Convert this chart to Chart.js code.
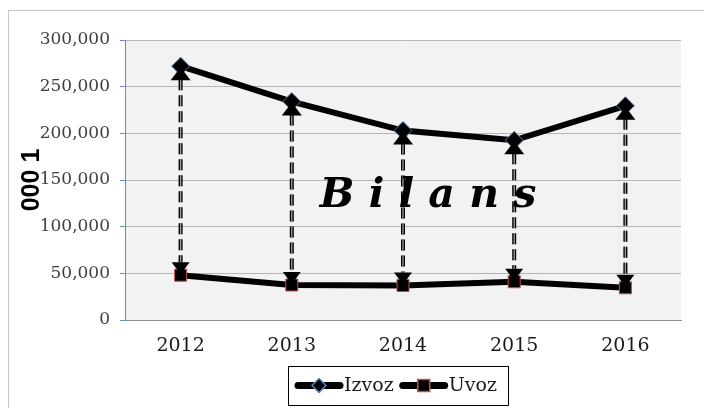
<!DOCTYPE html>
<html>
<head>
<meta charset="utf-8">
<script src="https://cdn.jsdelivr.net/npm/chart.js@4/dist/chart.umd.min.js"></script>
<style>
  body { margin: 0; background: #fff; }
  #wrap { width: 704px; height: 408px; }
</style>
</head>
<body>
<div id="wrap"><canvas id="myChart" width="704" height="408"></canvas></div>
<script>
var years = ['2012', '2013', '2014', '2015', '2016'];
var izvoz = [272000, 234000, 203000, 192500, 229500];
var uvoz = [48000, 37500, 37000, 41000, 34500];
var yTicks = [0, 50000, 100000, 150000, 200000, 250000, 300000];

var serif = '"DejaVu Serif", serif';

// white page, thin outer frame and grey plot area
var frame = {
    id: 'frame',
    beforeDraw: function (chart) {
        var ctx = chart.ctx, a = chart.chartArea;
        ctx.save();
        ctx.fillStyle = '#fff';
        ctx.fillRect(0, 0, chart.width, chart.height);
        ctx.strokeStyle = '#c4c4c4';
        ctx.lineWidth = 1;
        ctx.strokeRect(8.5, 10.5, chart.width + 10, chart.height + 10);
        ctx.fillStyle = '#f2f2f2';
        ctx.fillRect(a.left, a.top, a.right - a.left, a.bottom - a.top);
        ctx.restore();
    }
};

// dashed double arrows between the two series + the "Bilans" caption
var bilans = {
    id: 'bilans',
    afterDatasetsDraw: function (chart) {
        var ctx = chart.ctx, a = chart.chartArea;
        var top = chart.getDatasetMeta(0).data;
        var bot = chart.getDatasetMeta(1).data;
        ctx.save();
        top.forEach(function (p, i) {
            var q = bot[i];
            var x = p.x, y1 = p.y + 1, y2 = q.y - 1;
            ctx.setLineDash([11, 5]);
            ctx.lineWidth = 4;
            ctx.strokeStyle = '#000';
            ctx.beginPath();
            ctx.moveTo(x, y1 + 12);
            ctx.lineTo(x, y2 - 12);
            ctx.stroke();
            ctx.lineWidth = 1.3;
            ctx.strokeStyle = '#a0a0a0';
            ctx.stroke();
            ctx.setLineDash([]);
            ctx.fillStyle = '#000';
            ctx.beginPath();
            ctx.moveTo(x, y1);
            ctx.lineTo(x + 10, y1 + 13);
            ctx.lineTo(x - 10, y1 + 13);
            ctx.closePath();
            ctx.fill();
            ctx.beginPath();
            ctx.moveTo(x, y2);
            ctx.lineTo(x + 9, y2 - 12);
            ctx.lineTo(x - 9, y2 - 12);
            ctx.closePath();
            ctx.fill();
        });
        ctx.font = 'italic bold 41px ' + serif;
        ctx.textAlign = 'center';
        ctx.textBaseline = 'middle';
        ctx.fillStyle = '#000';
        ctx.fillText('B i l a n s', a.left + (a.right - a.left) * 0.545, a.top + (a.bottom - a.top) * 0.56);
        ctx.restore();
    }
};

// boxed legend with line + marker samples
var legendBox = {
    id: 'legendBox',
    afterDraw: function (chart) {
        var ctx = chart.ctx;
        var bx = 288, by = 366, bw = 220, bh = 39;
        var cy = by + bh / 2;
        ctx.save();
        ctx.strokeStyle = '#000';
        ctx.lineWidth = 1;
        ctx.strokeRect(bx + 0.5, by + 0.5, bw, bh);
        var x = bx + 7;
        ctx.font = '19px ' + serif;
        ctx.textBaseline = 'middle';
        chart.data.datasets.forEach(function (ds) {
            ctx.strokeStyle = '#000';
            ctx.lineWidth = 7;
            ctx.lineCap = 'round';
            ctx.beginPath();
            ctx.moveTo(x + 3, cy);
            ctx.lineTo(x + 45, cy);
            ctx.stroke();
            var mx = x + 24;
            ctx.fillStyle = '#000';
            ctx.strokeStyle = ds.pointBorderColor;
            ctx.lineWidth = 1.5;
            ctx.beginPath();
            if (ds.pointStyle === 'rectRot') {
                ctx.moveTo(mx, cy - 7);
                ctx.lineTo(mx + 7, cy);
                ctx.lineTo(mx, cy + 7);
                ctx.lineTo(mx - 7, cy);
                ctx.closePath();
            } else {
                ctx.rect(mx - 6, cy - 6, 12, 12);
            }
            ctx.fill();
            ctx.stroke();
            ctx.fillStyle = '#1a1a1a';
            ctx.fillText(ds.label, x + 49, cy + 1);
            x += 49 + ctx.measureText(ds.label).width + 6;
        });
        ctx.restore();
    }
};

var ctx = document.getElementById('myChart').getContext('2d');
var myChart = new Chart(ctx, {
    type: 'line',
    data: {
        labels: years,
        datasets: [
            {
                label: 'Izvoz',
                data: izvoz,
                borderColor: '#000',
                borderWidth: 6,
                pointStyle: 'rectRot',
                pointRadius: 9,
                pointBackgroundColor: '#000',
                pointBorderColor: '#4f81bd',
                pointBorderWidth: 1,
            },
            {
                label: 'Uvoz',
                data: uvoz,
                borderColor: '#000',
                borderWidth: 6,
                pointStyle: 'rect',
                pointRadius: 8.5,
                pointBackgroundColor: '#000',
                pointBorderColor: '#c0504d',
                pointBorderWidth: 1,
            },
        ],
    },
    options: {
        responsive: false,
        animation: false,
        layout: { padding: { left: 0, right: 23, top: 40, bottom: 0 } },
        plugins: { legend: { display: false }, tooltip: { enabled: false } },
        scales: {
            x: {
                offset: true,
                grid: { display: false, drawTicks: false },
                border: { color: '#8c8c8c', width: 1 },
                ticks: { padding: 15, color: '#1a1a1a', font: { family: serif, size: 19 } },
                afterFit: function (s) { s.height = 88; },
            },
            y: {
                min: 0,
                max: 300000,
                afterBuildTicks: function (s) { s.ticks = yTicks.map(function (v) { return { value: v }; }); },
                grid: { color: '#b5b5b5', tickColor: '#5a8ed0', tickLength: 5 },
                border: { color: '#5a8ed0', width: 1 },
                ticks: {
                    padding: 10,
                    color: '#404040',
                    font: { family: serif, size: 17 },
                    callback: function (v) { return v.toLocaleString('en-US'); },
                },
                title: {
                    display: true,
                    text: '000 1',
                    color: '#000',
                    font: { family: '"Liberation Sans", Arial, sans-serif', size: 25, weight: 'bold' },
                    padding: { top: 17, bottom: 0 },
                },
                afterFit: function (s) { s.width = 125; },
            },
        },
    },
    plugins: [frame, bilans, legendBox],
});
</script>
</body>
</html>
